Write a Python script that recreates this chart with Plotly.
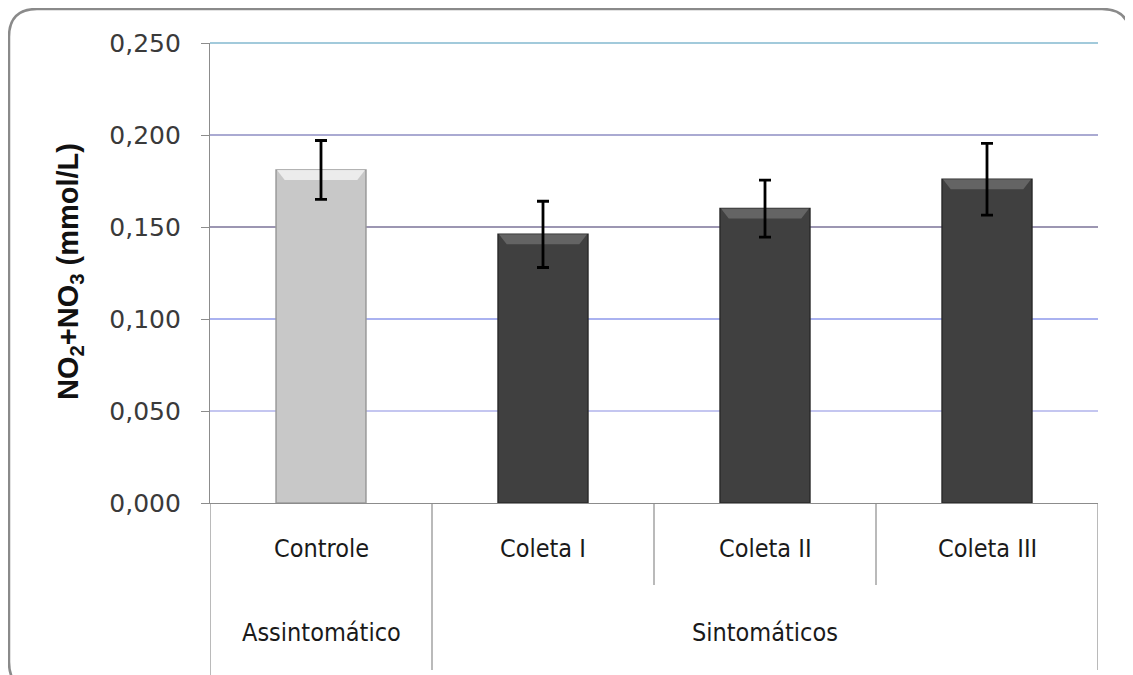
import plotly.graph_objects as go

# ---- data ----
categories = ["Controle", "Coleta I", "Coleta II", "Coleta III"]
groups = ["Assintomático", "Sintomáticos"]
group_members = [[0], [1, 2, 3]]
values = [0.181, 0.146, 0.160, 0.176]
errors = [0.016, 0.018, 0.0155, 0.0195]
bar_colors = ["#c8c8c8", "#404040", "#404040", "#404040"]
bar_edges = ["#9a9a9a", "#2a2a2a", "#2a2a2a", "#2a2a2a"]
bevel_colors = ["#f0f0f0", "#686868", "#686868", "#686868"]
y_ticks = [0.0, 0.05, 0.10, 0.15, 0.20, 0.25]
grid_colors = [None, "#c4c6f0", "#aab2f0", "#9c96b2", "#aaaad2", "#a2cadb"]
y_title = "NO<sub>2</sub>+NO<sub>3</sub> (mmol/L)"
Y_MAX = 0.25
BAR_W = 0.405

# ---- layout geometry (screen pixels; page body has an 8px margin) ----
OFF = 8
W, H = 1133 - OFF, 675 - OFF
PL, PR, PT, PB = 210, 1098, 43, 503
L, T = PL - OFF, PT - OFF
R = W - (PR - OFF)
B = H - (PB - OFF)
PW, PH = PR - PL, PB - PT


def px(x):
    return (x - PL) / PW


def py(y):
    return (PB - y) / PH


n = len(categories)
idx = list(range(n))

fig = go.Figure()
fig.add_trace(go.Bar(
    x=categories, y=values, width=BAR_W,
    marker=dict(color=bar_colors, line=dict(color=bar_edges, width=1.5)),
    showlegend=False, hoverinfo="skip",
))

# bevel highlight at the top of each bar (overlay linear axis x2)
dx = 0.035
dy = 10 / PH * Y_MAX
for i, v, bc in zip(idx, values, bevel_colors):
    xl, xr = i - BAR_W / 2 + 0.004, i + BAR_W / 2 - 0.004
    fig.add_trace(go.Scatter(
        x=[xl, xr, xr - dx, xl + dx, xl], y=[v, v, v - dy, v - dy, v],
        xaxis="x2", yaxis="y", mode="lines", fill="toself", fillcolor=bc,
        line=dict(width=0), opacity=0.9, showlegend=False, hoverinfo="skip"))

# error bars on top
fig.add_trace(go.Scatter(
    x=idx, y=values, xaxis="x2", yaxis="y", mode="markers",
    marker=dict(size=1, opacity=0),
    error_y=dict(type="data", array=errors, visible=True, color="black",
                 thickness=2.8, width=6),
    showlegend=False))

shapes = []
for v, c in zip(y_ticks, grid_colors):
    if c is None:
        continue
    shapes.append(dict(type="line", xref="paper", yref="paper", x0=0, x1=1,
                       y0=v / Y_MAX, y1=v / Y_MAX,
                       line=dict(color=c, width=2), layer="below"))

group_bounds = set()
for mem in group_members:
    group_bounds.add(mem[0] - 0.5)
    group_bounds.add(mem[-1] + 0.5)
for i in range(n + 1):
    b = i - 0.5
    y_end = py(670) if b in group_bounds else py(585)
    if i == 0:
        y_end = py(675)
    shapes.append(dict(type="line", xref="x", yref="paper", x0=b, x1=b, y0=0, y1=y_end,
                       line=dict(color="#8c8c8c", width=1.2)))

x0, x1, y0, y1, r = 9, 1130, 9, 690, 28
path = (f"M {px(x0)},{py(y0 + r)} Q {px(x0)},{py(y0)} {px(x0 + r)},{py(y0)} "
        f"L {px(x1 - r)},{py(y0)} Q {px(x1)},{py(y0)} {px(x1)},{py(y0 + r)} "
        f"L {px(x1)},{py(y1 - r)} Q {px(x1)},{py(y1)} {px(x1 - r)},{py(y1)} "
        f"L {px(x0 + r)},{py(y1)} Q {px(x0)},{py(y1)} {px(x0)},{py(y1 - r)} Z")
shapes.append(dict(type="path", xref="paper", yref="paper", path=path,
                   line=dict(color="#8a8a8a", width=2.5), layer="below"))

annotations = []
cat_font = dict(family="Liberation Sans Narrow, DejaVu Sans Condensed, Liberation Sans",
                size=25, color="#1a1a1a")
for c in categories:
    annotations.append(dict(x=c, y=py(548), xref="x", yref="paper", text=c,
                            showarrow=False, font=cat_font, xanchor="center", yanchor="middle"))
for g, mem in zip(groups, group_members):
    center = (mem[0] + mem[-1]) / 2
    annotations.append(dict(x=center, y=py(632), xref="x", yref="paper", text=g,
                            showarrow=False, font=cat_font, xanchor="center", yanchor="middle"))
annotations.append(dict(x=px(70), y=py(272), xref="paper", yref="paper",
                        text="<b>" + y_title + "</b>",
                        textangle=-90, showarrow=False,
                        font=dict(family="Liberation Sans", size=29, color="#111111"),
                        xanchor="center", yanchor="middle"))

fig.update_layout(
    width=W, height=H,
    margin=dict(l=L, r=R, t=T, b=B, pad=0),
    paper_bgcolor="white", plot_bgcolor="white",
    separators=",.",
    shapes=shapes, annotations=annotations,
    xaxis=dict(type="category", categoryorder="array", categoryarray=categories,
               range=[-0.5, n - 0.5], showticklabels=False, ticks="", showgrid=False,
               showline=True, linecolor="#8c8c8c", linewidth=1.2, zeroline=False),
    xaxis2=dict(overlaying="x", range=[-0.5, n - 0.5], visible=False),
    yaxis=dict(range=[0, Y_MAX], tickvals=y_ticks, tickformat=".3f", showgrid=False,
               showline=True, linecolor="#8c8c8c", linewidth=1.2, zeroline=False,
               ticks="outside", ticklen=8, tickcolor="#8c8c8c", ticklabelstandoff=15,
               tickfont=dict(family="DejaVu Sans", size=25, color="#3a3a3a")),
)

fig.write_html("out.html")
